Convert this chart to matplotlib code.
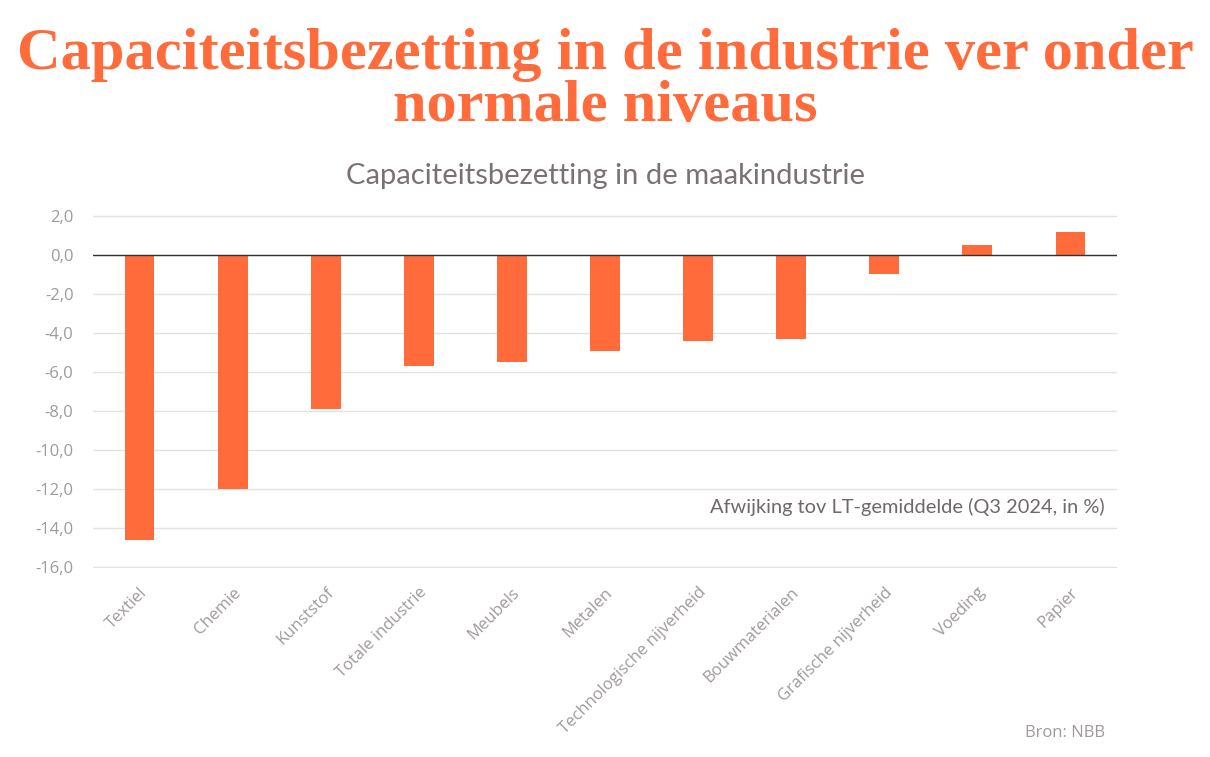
import matplotlib

matplotlib.use("Agg")
import matplotlib.pyplot as plt
import numpy as np

# data
categories = [
    "Textiel", "Chemie", "Kunststof", "Totale industrie", "Meubels", "Metalen",
    "Technologische nijverheid", "Bouwmaterialen", "Grafische nijverheid",
    "Voeding", "Papier",
]
values = [-14.6, -12.0, -7.9, -5.7, -5.5, -4.9, -4.4, -4.3, -1.0, 0.5, 1.2]
yticks = [2, 0, -2, -4, -6, -8, -10, -12, -14, -16]

ORANGE = "#ff6b3a"
GREY = "#a09a9a"

fig = plt.figure(figsize=(12.1, 7.57), dpi=100)
fig.patch.set_facecolor("white")

# title block
fig.text(0.5, 1 - 55 / 757, "Capaciteitsbezetting in de industrie ver onder",
         ha="center", va="center", fontsize=43.5, fontweight="bold",
         family="Liberation Serif", color=ORANGE)
fig.text(0.5, 1 - 107 / 757, "normale niveaus",
         ha="center", va="center", fontsize=43.5, fontweight="bold",
         family="Liberation Serif", color=ORANGE)
fig.text(0.5, 1 - 176 / 757, "Capaciteitsbezetting in de maakindustrie",
         ha="center", va="center", fontsize=21, family="Lato", color="#7a7272")

ax = fig.add_axes([93 / 1210, 1 - 568 / 757, 1024 / 1210, (568 - 215) / 757])
x = np.arange(len(categories))
ax.bar(x, values, width=0.32, color=ORANGE, zorder=3)
ax.set_xlim(-0.5, len(categories) - 0.5)
ax.set_ylim(-16.05, 2.05)
ax.set_yticks(yticks)
ax.set_yticklabels([f"{v:.1f}".replace(".", ",") for v in yticks],
                   family="Open Sans", fontsize=12, color=GREY)
ax.grid(axis="y", color="#e3e3e3", linewidth=1, zorder=0)
ax.axhline(0, color="#333333", linewidth=1, zorder=4)
for s in ax.spines.values():
    s.set_visible(False)
ax.tick_params(axis="both", length=0)
ax.tick_params(axis="y", pad=14)
ax.set_xticks(x)
ax.set_xticklabels(categories, rotation=45, ha="right", rotation_mode="anchor",
                   family="Open Sans", fontsize=12, color=GREY)
ax.tick_params(axis="x", pad=12)

fig.text(1105 / 1210, 1 - 507 / 757, "Afwijking tov LT-gemiddelde (Q3 2024, in %)",
         ha="right", va="center", fontsize=14.4, family="Lato", color="#6e6868")
fig.text(1105 / 1210, 1 - 733 / 757, "Bron: NBB",
         ha="right", va="center", fontsize=12, family="Open Sans", color=GREY)

fig.savefig("out.png", dpi=100, facecolor="white")
